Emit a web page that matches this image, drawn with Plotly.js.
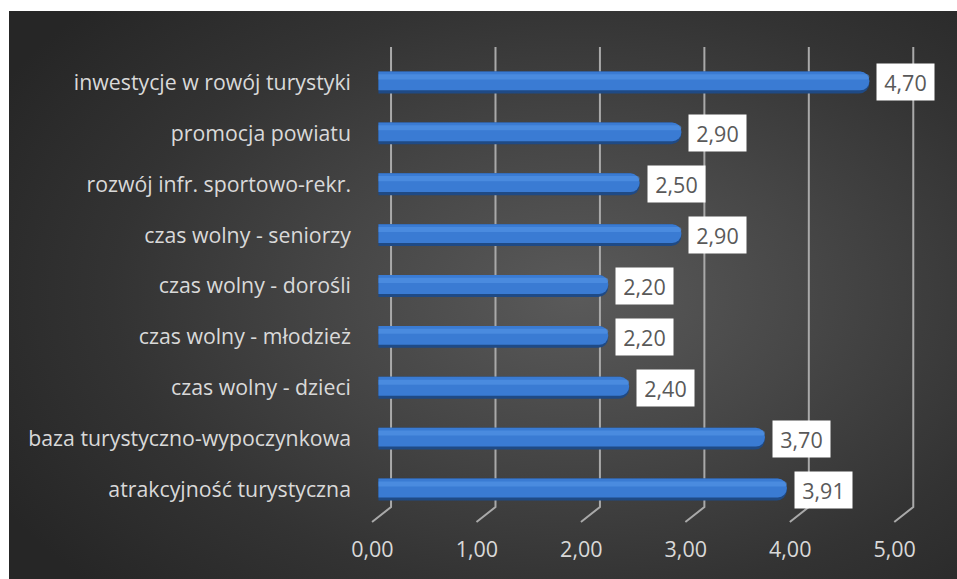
<!DOCTYPE html>
<html>
<head>
<meta charset="utf-8">
<script src="https://cdn.plot.ly/plotly-3.0.1.min.js"></script>
<style>
  html, body { margin: 0; padding: 0; background: #ffffff; }
  #bg { position: absolute; left: 9px; top: 11px; width: 948px; height: 568px;
        background: radial-gradient(ellipse 70% 75% at 60% 50%, #5a5a5a 0%, #474747 35%, #333333 70%, #262626 100%); }
  #chart { position: absolute; left: 0; top: 0; width: 957px; height: 579px; }
</style>
</head>
<body>
<div id="bg"></div>
<div id="chart"></div>
<script>
const categories = [
  "inwestycje w rowój turystyki",
  "promocja powiatu",
  "rozwój infr. sportowo-rekr.",
  "czas wolny - seniorzy",
  "czas wolny - dorośli",
  "czas wolny - młodzież",
  "czas wolny - dzieci",
  "baza turystyczno-wypoczynkowa",
  "atrakcyjność turystyczna"
];
const values = [4.70, 2.90, 2.50, 2.90, 2.20, 2.20, 2.40, 3.70, 3.91];
const tickVals = [0, 1, 2, 3, 4, 5];

const W = 957, H = 579;
const M = { l: 368, r: 25, t: 57, b: 64 };
const xRange = [-0.1, 5.3];
const plotW = W - M.l - M.r, plotH = H - M.t - M.b;
const pxPerUnit = plotW / (xRange[1] - xRange[0]);
const pxToPaperY = py => (H - M.b - py) / plotH;
const backDx = 12.6 / pxPerUnit, frontDx = -6.4 / pxPerUnit;
const yTop = pxToPaperY(47), yFloor = pxToPaperY(507), yFront = pxToPaperY(522);

const fontFam = "'Open Sans', Lato, sans-serif";
const labelText = values.map(v => v.toFixed(2).replace('.', ','));

const shapes = tickVals.map(v => ({
  type: 'path', xref: 'x', yref: 'paper', layer: 'below',
  path: `M ${v + backDx} ${yTop} L ${v + backDx} ${yFloor} L ${v + frontDx} ${yFront}`,
  line: { color: '#a9a9a9', width: 2 }
}));

const common = { type: 'bar', orientation: 'h', y: categories, x: values, hoverinfo: 'skip', showlegend: false };
const traces = [
  Object.assign({}, common, { offset: -0.215, width: 0.43, marker: { color: '#1f4a85', cornerradius: 10 } }),
  Object.assign({}, common, { offset: -0.215, width: 0.37, marker: { color: '#3a7bd3', cornerradius: 9 } }),
  Object.assign({}, common, { offset: -0.16, width: 0.1, marker: { color: 'rgba(90,155,235,0.5)', cornerradius: 3 } })
];

const annotations = values.map((v, i) => ({
  x: v, y: categories[i], xref: 'x', yref: 'y',
  text: labelText[i], showarrow: false, xanchor: 'left', yanchor: 'middle',
  xshift: 7, bgcolor: '#ffffff', borderpad: 4, width: 49, height: 28, align: 'center',
  font: { family: fontFam, size: 21.5, color: '#595959' }
}));

const layout = {
  width: W, height: H,
  margin: M,
  paper_bgcolor: 'rgba(0,0,0,0)', plot_bgcolor: 'rgba(0,0,0,0)',
  separators: ', ',
  barmode: 'overlay',
  xaxis: {
    range: xRange, tickvals: tickVals, tickformat: '.2f',
    showgrid: false, zeroline: false, showline: false, ticks: '',
    ticklabelshift: -6, ticklabelstandoff: 19,
    tickfont: { family: fontFam, size: 21.5, color: '#d9d9d9' }, fixedrange: true
  },
  yaxis: {
    type: 'category', categoryorder: 'array', categoryarray: categories,
    range: [8.5, -0.5], showgrid: false, zeroline: false, showline: false, ticks: '',
    ticklabelstandoff: 16,
    tickfont: { family: fontFam, size: 21.3, color: '#d9d9d9' }, fixedrange: true
  },
  shapes: shapes,
  annotations: annotations
};

Plotly.newPlot('chart', traces, layout, { displayModeBar: false, staticPlot: true });
</script>
</body>
</html>
